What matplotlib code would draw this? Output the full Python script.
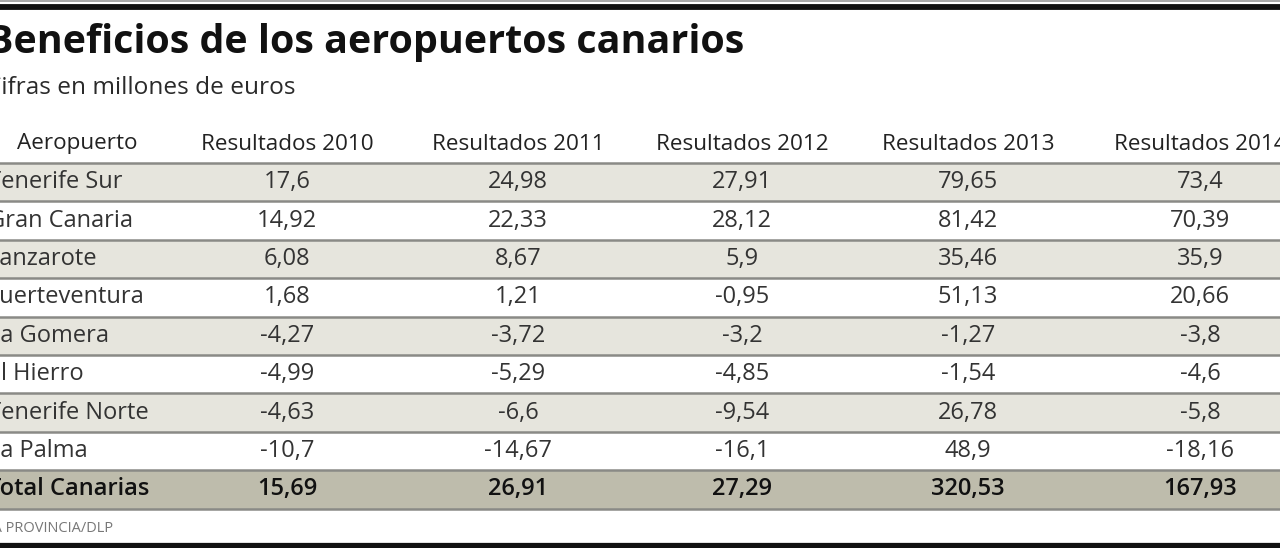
import matplotlib
matplotlib.use('Agg')
import matplotlib.pyplot as plt

# data
aeropuertos = ['Tenerife Sur', 'Gran Canaria', 'Lanzarote', 'Fuerteventura', 'La Gomera',
               'El Hierro', 'Tenerife Norte', 'La Palma']
columnas = ['Resultados 2010', 'Resultados 2011', 'Resultados 2012', 'Resultados 2013', 'Resultados 2014']
res_2010 = [17.6, 14.92, 6.08, 1.68, -4.27, -4.99, -4.63, -10.7]
res_2011 = [24.98, 22.33, 8.67, 1.21, -3.72, -5.29, -6.6, -14.67]
res_2012 = [27.91, 28.12, 5.9, -0.95, -3.2, -4.85, -9.54, -16.1]
res_2013 = [79.65, 81.42, 35.46, 51.13, -1.27, -1.54, 26.78, 48.9]
res_2014 = [73.4, 70.39, 35.9, 20.66, -3.8, -4.6, -5.8, -18.16]
total_label = 'Total Canarias'
totales = [15.69, 26.91, 27.29, 320.53, 167.93]

titulo = 'Beneficios de los aeropuertos canarios'
subtitulo = 'Cifras en millones de euros'
fuente = 'LA PROVINCIA/DLP'


def fmt(v):
    return f'{v:g}'.replace('.', ',')


plt.rcParams['font.family'] = ['Open Sans', 'DejaVu Sans']

W, H = 1280, 548
fig = plt.figure(figsize=(W / 100, H / 100), dpi=100)
ax = fig.add_axes([0, 0, 1, 1])
ax.set_xlim(0, W)
ax.set_ylim(H, 0)
ax.axis('off')

# frame lines
ax.axhline(1, color='#9a9a9a', lw=1.2)
ax.axhline(6.5, color='#111111', lw=4.2)
ax.axhline(545.5, color='#111111', lw=4.5)

ax.text(-13, 42, titulo, fontsize=28.4, fontweight='bold', color='#111111', va='center', ha='left')
ax.text(-14, 88, subtitulo, fontsize=17.6, color='#2a2a2a', va='center', ha='left')

col_x = [287, 518, 742, 968, 1200]
name_x = -12
head_y = 144
top = 163
row_h = 38.4

ax.text(77, head_y, 'Aeropuerto', fontsize=16.2, color='#222222', ha='center', va='center')
for cx, c in zip(col_x, columnas):
    ax.text(cx, head_y, c, fontsize=16.2, color='#222222', ha='center', va='center')

series = [res_2010, res_2011, res_2012, res_2013, res_2014]
n = len(aeropuertos)
centers = [top + row_h * (i + 0.5) for i in range(n + 1)]
colors = ['#e6e5dd' if i % 2 == 0 else 'white' for i in range(n)] + ['#bebcac']
ax.barh(centers, [W] * (n + 1), height=row_h, left=0, color=colors, zorder=0)

for i in range(n + 2):
    ax.axhline(top + row_h * i, color='#8a8a86', lw=1.8, zorder=1)

for i, name in enumerate(aeropuertos):
    y = centers[i]
    ax.text(name_x, y, name, fontsize=17, color='#333333', ha='left', va='center')
    for cx, s in zip(col_x, series):
        ax.text(cx, y, fmt(s[i]), fontsize=17, color='#333333', ha='center', va='center')

y = centers[n]
ax.text(name_x, y, total_label, fontsize=17, color='#111111', ha='left', va='center', fontweight='semibold')
for cx, v in zip(col_x, totales):
    ax.text(cx, y, fmt(v), fontsize=17, color='#111111', ha='center', va='center', fontweight='semibold')

ax.text(-15, 529, fuente, fontsize=10.5, color='#777777', ha='left', va='center')

fig.savefig('out.png', dpi=100)
